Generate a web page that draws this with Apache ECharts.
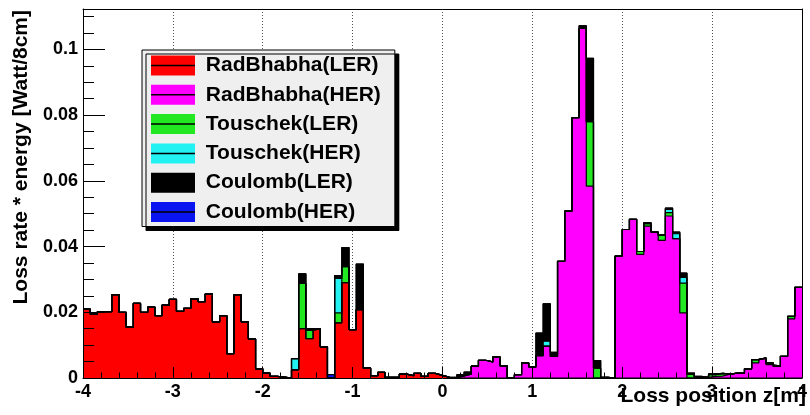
<!DOCTYPE html>
<html>
<head>
<meta charset="utf-8">
<script src="https://cdn.jsdelivr.net/npm/echarts@6/dist/echarts.min.js"></script>
<style>html,body{margin:0;padding:0;background:#fff;}#c{width:810px;height:415px;}</style>
</head>
<body>
<div id="c"></div>
<script>
// Histogram binning: 100 bins of 8 cm from -4 m to 4 m
const binLow = -4;
const binWidth = 0.08;
const xTicks = [-4, -3, -2, -1, 0, 1, 2, 3, 4];
const yTickLabels = [0, 0.02, 0.04, 0.06, 0.08, 0.1];

const seriesNames = ['RadBhabha(LER)', 'RadBhabha(HER)', 'Touschek(LER)', 'Touschek(HER)', 'Coulomb(LER)', 'Coulomb(HER)'];
const seriesColors = ['#ff0000', '#ff00ff', '#22e822', '#22f2f2', '#000000', '#0a14f0'];

const radBhabhaLER = [
  0.0210, 0.0195, 0.0202, 0.0202, 0.0254, 0.0200, 0.0155, 0.0227, 0.0200, 0.0216,
  0.0190, 0.0222, 0.0239, 0.0203, 0.0212, 0.0241, 0.0232, 0.0256, 0.0171, 0.0190,
  0.0074, 0.0254, 0.0171, 0.0119, 0.0028, 0.0015, 0.0005, 0.0003, 0, 0.0025,
  0.0150, 0.0120, 0.0150, 0.0095, 0, 0.0168, 0.0290, 0.0147, 0.0208, 0.0030,
  0.0007, 0.0017, 0.0002, 0.0002, 0.0012, 0.0007, 0.0014, 0.0005, 0.0014, 0.0008,
  0.0002, 0, 0, 0, 0, 0, 0, 0, 0, 0,
  0, 0, 0, 0, 0, 0, 0, 0, 0, 0,
  0, 0, 0, 0, 0, 0, 0, 0, 0, 0,
  0, 0, 0, 0, 0, 0, 0, 0, 0, 0,
  0, 0, 0, 0, 0, 0, 0, 0, 0, 0
];
const radBhabhaHER = [
  0, 0, 0, 0, 0, 0, 0, 0, 0, 0,
  0, 0, 0, 0, 0, 0, 0, 0, 0, 0,
  0, 0, 0, 0, 0, 0, 0, 0, 0, 0,
  0, 0, 0, 0, 0, 0, 0, 0, 0, 0,
  0, 0, 0, 0, 0, 0, 0, 0, 0, 0,
  0, 0, 0.0006, 0.0012, 0.0036, 0.0054, 0.0049, 0.0064, 0.0037, 0.0001,
  0.0010, 0.0046, 0.0034, 0.0068, 0.0097, 0.0066, 0.0355, 0.0508, 0.0792, 0.1064,
  0.0584, 0, 0.0002, 0, 0.0371, 0.0452, 0.0483, 0.0376, 0.0462, 0.0444,
  0.0419, 0.0493, 0.0424, 0.0198, 0, 0.0003, 0.0002, 0.0005, 0.0006, 0.0012,
  0.0015, 0.0015, 0.0028, 0.0046, 0.0058, 0.0041, 0.0036, 0.0066, 0.0180, 0.0276
];
const touschekLER = [
  0, 0, 0, 0, 0, 0, 0, 0, 0, 0,
  0, 0, 0, 0, 0, 0, 0, 0, 0, 0,
  0, 0, 0, 0, 0, 0, 0, 0, 0, 0,
  0.0138, 0.0025, 0, 0, 0, 0.0030, 0.0049, 0, 0, 0,
  0, 0, 0, 0, 0, 0, 0, 0, 0, 0,
  0, 0, 0, 0, 0, 0, 0, 0, 0, 0,
  0, 0, 0, 0, 0, 0, 0, 0, 0, 0,
  0.0196, 0.0030, 0, 0, 0, 0, 0, 0.0009, 0.0008, 0,
  0.0016, 0.0010, 0, 0.0091, 0.0012, 0, 0, 0.0005, 0.0008, 0,
  0, 0, 0, 0.0010, 0.0003, 0.0005, 0, 0, 0.0008, 0
];
const touschekHER = [
  0, 0, 0, 0, 0, 0, 0, 0, 0, 0,
  0, 0, 0, 0, 0, 0, 0, 0, 0, 0,
  0, 0, 0, 0, 0, 0, 0, 0, 0, 0.0034,
  0, 0, 0, 0, 0, 0.0105, 0, 0, 0, 0,
  0, 0, 0, 0, 0, 0, 0, 0, 0, 0,
  0, 0, 0, 0, 0, 0, 0, 0, 0, 0,
  0, 0, 0, 0, 0.0015, 0, 0, 0, 0, 0,
  0, 0, 0, 0, 0, 0, 0, 0, 0, 0,
  0, 0.0010, 0.0015, 0.0017, 0, 0, 0, 0, 0, 0,
  0, 0, 0, 0, 0, 0, 0, 0, 0, 0
];
const coulombLER = [
  0, 0, 0, 0, 0, 0, 0, 0, 0, 0,
  0, 0, 0, 0, 0, 0, 0, 0, 0, 0,
  0, 0, 0, 0, 0, 0, 0, 0, 0, 0,
  0.0029, 0.0005, 0, 0, 0, 0.0009, 0.0058, 0, 0.0139, 0,
  0, 0, 0, 0, 0, 0, 0, 0, 0, 0,
  0, 0.0003, 0.0004, 0.0006, 0, 0, 0, 0, 0, 0,
  0, 0, 0, 0.0069, 0.0114, 0.0012, 0, 0, 0, 0.0008,
  0.0193, 0.0023, 0, 0, 0, 0, 0, 0, 0.0003, 0,
  0, 0.0004, 0.0005, 0.0013, 0.0003, 0.0002, 0, 0.0003, 0, 0,
  0, 0, 0, 0, 0, 0, 0, 0, 0, 0
];
const coulombHER = [
  0, 0, 0, 0, 0, 0, 0, 0, 0, 0,
  0, 0, 0, 0, 0, 0, 0, 0, 0, 0,
  0, 0, 0, 0, 0, 0, 0, 0, 0, 0,
  0, 0, 0, 0, 0.0010, 0, 0, 0, 0, 0,
  0, 0, 0, 0, 0, 0, 0, 0, 0, 0,
  0, 0, 0, 0, 0, 0, 0, 0, 0, 0,
  0, 0, 0, 0, 0, 0, 0, 0, 0, 0,
  0, 0, 0, 0, 0, 0, 0, 0, 0, 0,
  0, 0, 0, 0, 0, 0, 0, 0, 0, 0,
  0, 0, 0, 0, 0, 0, 0, 0, 0, 0
];
const seriesValues = [radBhabhaLER, radBhabhaHER, touschekLER, touschekHER, coulombLER, coulombHER];

// THStack-style cumulative sums (layer k = sum of components 0..k)
const cumulative = [];
seriesValues.forEach((vals, k) => {
  cumulative.push(vals.map((v, i) => (k === 0 ? v : cumulative[k - 1][i] + v)));
});

// Step points: one point at each bin's low edge, plus the closing upper edge
function toStepPoints(vals) {
  const pts = vals.map((v, i) => [Math.round((binLow + binWidth * i) * 1000) / 1000, v]);
  pts.push([Math.round((binLow + binWidth * vals.length) * 1000) / 1000, vals[vals.length - 1]]);
  return pts;
}

const FONT = '"Liberation Sans", Arial, Helvetica, sans-serif';
const yMax = 0.1123;

// Draw the top of the stack first, lower layers painted over it (like ROOT THStack)
const fillSeries = [];
const outlineSeries = [];
for (let k = seriesNames.length - 1; k >= 0; k--) {
  const order = seriesNames.length - k; // 1..6
  fillSeries.push({
    type: 'line', name: seriesNames[k], step: 'end', symbol: 'none', silent: true,
    data: toStepPoints(cumulative[k]),
    lineStyle: { width: 0, opacity: 0 },
    areaStyle: { color: seriesColors[k], opacity: 1, origin: 'start' },
    itemStyle: { color: seriesColors[k] },
    z: order
  });
  outlineSeries.push({
    type: 'line', name: seriesNames[k] + ' outline', step: 'end', symbol: 'none', silent: true,
    data: toStepPoints(cumulative[k]),
    lineStyle: { width: 1.2, color: '#000' },
    itemStyle: { color: '#000' },
    z: 8
  });
}

const chart = echarts.init(document.getElementById('c'), null, { renderer: 'canvas' });
chart.setOption({
  animation: false,
  backgroundColor: '#ffffff',
  grid: { left: 83, right: 2, top: 9, bottom: 37, containLabel: false },
  xAxis: [
    {
      type: 'value', position: 'bottom', min: xTicks[0], max: xTicks[xTicks.length - 1], interval: 1, z: 10,
      axisLine: { show: true, onZero: false, lineStyle: { color: '#000', width: 1 } },
      axisTick: { show: true, inside: true, length: 11, lineStyle: { color: '#000', width: 1 } },
      minorTick: { show: true, splitNumber: 5, length: 5.5, lineStyle: { color: '#000', width: 1 } },
      splitLine: { show: false },
      axisLabel: { show: true, margin: 5, color: '#000', fontFamily: FONT, fontWeight: 'bold', fontSize: 18,
        formatter: v => (xTicks.indexOf(v) >= 0 ? String(v) : '') }
    },
    {
      type: 'value', position: 'top', min: xTicks[0], max: xTicks[xTicks.length - 1], interval: 1, z: 0,
      axisLine: { show: true, onZero: false, lineStyle: { color: '#000', width: 1 } },
      axisTick: { show: false }, axisLabel: { show: false },
      splitLine: { show: true, lineStyle: { color: '#555', width: 1, type: [1, 2] } }
    }
  ],
  yAxis: [
    {
      type: 'value', position: 'left', min: 0, max: yMax, interval: 0.02, z: 10,
      axisLine: { show: true, onZero: false, lineStyle: { color: '#000', width: 1 } },
      axisTick: { show: true, inside: true, length: 22, lineStyle: { color: '#000', width: 1 } },
      splitLine: { show: false },
      axisLabel: { show: true, margin: 5, color: '#000', fontFamily: FONT, fontWeight: 'bold', fontSize: 18,
        formatter: v => {
          const hit = yTickLabels.find(t => Math.abs(t - v) < 1e-9);
          return hit === undefined ? '' : String(hit);
        } }
    },
    {
      type: 'value', position: 'left', min: 0, max: yMax, interval: 0.005, z: 10,
      axisLine: { show: false, onZero: false },
      axisTick: { show: true, inside: true, length: 11, lineStyle: { color: '#000', width: 1 } },
      splitLine: { show: false }, axisLabel: { show: false }
    },
    {
      type: 'value', position: 'right', min: 0, max: yMax, z: 10,
      axisLine: { show: true, onZero: false, lineStyle: { color: '#000', width: 1 } },
      axisTick: { show: false }, splitLine: { show: false }, axisLabel: { show: false }
    }
  ],
  legend: [
    {
      orient: 'vertical', left: 142, top: 50, padding: [5, 14, 4, 9],
      itemWidth: 44, itemHeight: 20, itemGap: 8.3, icon: 'rect', selectedMode: false,
      backgroundColor: '#efefef', borderColor: '#000', borderWidth: 1,
      shadowColor: '#000', shadowBlur: 0.01, shadowOffsetX: 4, shadowOffsetY: 4,
      textStyle: { color: '#000', fontFamily: FONT, fontWeight: 'bold', fontSize: 21 },
      formatter: n => ' ' + n,
      data: seriesNames, z: 20
    },
    {
      orient: 'vertical', left: 142, top: 50, padding: [5, 14, 4, 9],
      itemWidth: 44, itemHeight: 1.5, itemGap: 8.3, icon: 'rect', selectedMode: false,
      itemStyle: { color: '#000' },
      textStyle: { color: 'rgba(0,0,0,0)', fontFamily: FONT, fontWeight: 'bold', fontSize: 21 },
      formatter: n => ' ' + n,
      data: seriesNames.map(n => ({ name: n, itemStyle: { color: '#000' } })),
      z: 21
    }
  ],
  graphic: [
    { type: 'text', x: 21, y: 10, rotation: Math.PI / 2, z: 20,
      style: { text: 'Loss rate * energy [Watt/8cm]', font: 'bold 21px ' + FONT, fill: '#000', align: 'right', verticalAlign: 'middle' } },
    { type: 'text', x: 806, y: 396, z: 20,
      style: { text: 'Loss position z[m]', font: 'bold 21px ' + FONT, fill: '#000', align: 'right', verticalAlign: 'middle' } }
  ],
  series: fillSeries.concat(outlineSeries)
});
</script>
</body>
</html>
